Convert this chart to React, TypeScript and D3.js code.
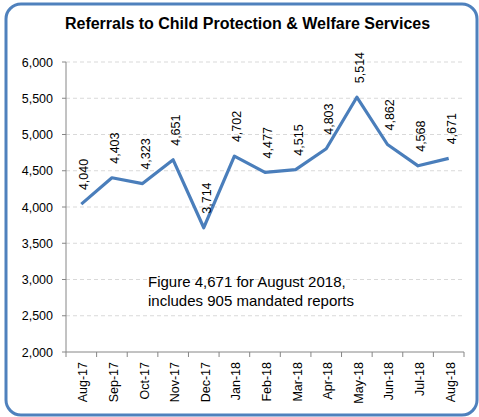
import React from "react";
import * as d3 from "d3";

const months = ["Aug-17","Sep-17","Oct-17","Nov-17","Dec-17","Jan-18","Feb-18","Mar-18","Apr-18","May-18","Jun-18","Jul-18","Aug-18"];
const referrals = [4040,4403,4323,4651,3714,4702,4477,4515,4803,5514,4862,4568,4671];
const yTicks = [2000,2500,3000,3500,4000,4500,5000,5500,6000];
const title = "Referrals to Child Protection & Welfare Services";
const noteLines = ["Figure 4,671 for August 2018,", "includes 905 mandated reports"];

const W = 479, H = 417;
const left = 66, right = 464, top = 62, bottom = 352;
const font = "'Liberation Sans', Arial, sans-serif";

export default function App() {
  const x = d3.scaleBand<string>().domain(months).range([left, right]);
  const y = d3.scaleLinear().domain([2000, 6000]).range([bottom, top]);
  const fmt = d3.format(",");
  const line = d3.line<number>()
    .x((_, i) => (x(months[i]) as number) + x.bandwidth() / 2)
    .y(d => y(d));
  return (
    <svg width={W} height={H} style={{ position: "absolute", left: 0, top: 0, display: "block" }}>
      <rect x={0} y={0} width={W} height={H} fill="#ffffff" />
      <rect x={6} y={4} width={471} height={411} rx={15} ry={15} fill="#ffffff" stroke="#4f81bd" strokeWidth={3} />
      <text x={247.5} y={29} textAnchor="middle" fontFamily={font} fontWeight="bold" fontSize={16} fill="#000">{title}</text>
      {yTicks.map(t => (
        <g key={t}>
          {t > 2000 && <line x1={left} x2={right} y1={y(t)} y2={y(t)} stroke="#d9d9d9" strokeDasharray="4,3" />}
          <line x1={left - 4} x2={left} y1={y(t)} y2={y(t)} stroke="#868686" />
          <text x={left - 13} y={y(t) + 4.5} textAnchor="end" fontFamily={font} fontSize={12.5} fill="#000">{fmt(t)}</text>
        </g>
      ))}
      <line x1={left} x2={left} y1={top} y2={bottom} stroke="#868686" />
      <line x1={left} x2={right} y1={bottom} y2={bottom} stroke="#868686" />
      {months.map((m, i) => (
        <line key={"t" + m} x1={(x(m) as number)} x2={(x(m) as number)} y1={bottom} y2={bottom + 5} stroke="#868686" />
      ))}
      <line x1={right} x2={right} y1={bottom} y2={bottom + 5} stroke="#868686" />
      {months.map(m => {
        const cx = (x(m) as number) + x.bandwidth() / 2 + 6;
        return (
          <text key={"l" + m} transform={`translate(${cx},${bottom + 10}) rotate(-90)`} textAnchor="end"
            fontFamily={font} fontSize={12.5} fill="#000">{m}</text>
        );
      })}
      <path d={line(referrals) as string} fill="none" stroke="#4a7ebb" strokeWidth={3.2} strokeLinejoin="round" />
      {referrals.map((v, i) => {
        const cx = (x(months[i]) as number) + x.bandwidth() / 2 + 7;
        return (
          <text key={"d" + i} transform={`translate(${cx},${y(v) - 14}) rotate(-90)`} textAnchor="start"
            fontFamily={font} fontSize={12.5} fill="#000">{fmt(v)}</text>
        );
      })}
      {noteLines.map((s, i) => (
        <text key={"n" + i} x={148} y={287 + i * 19} fontFamily={font} fontSize={15} fill="#000">{s}</text>
      ))}
    </svg>
  );
}
